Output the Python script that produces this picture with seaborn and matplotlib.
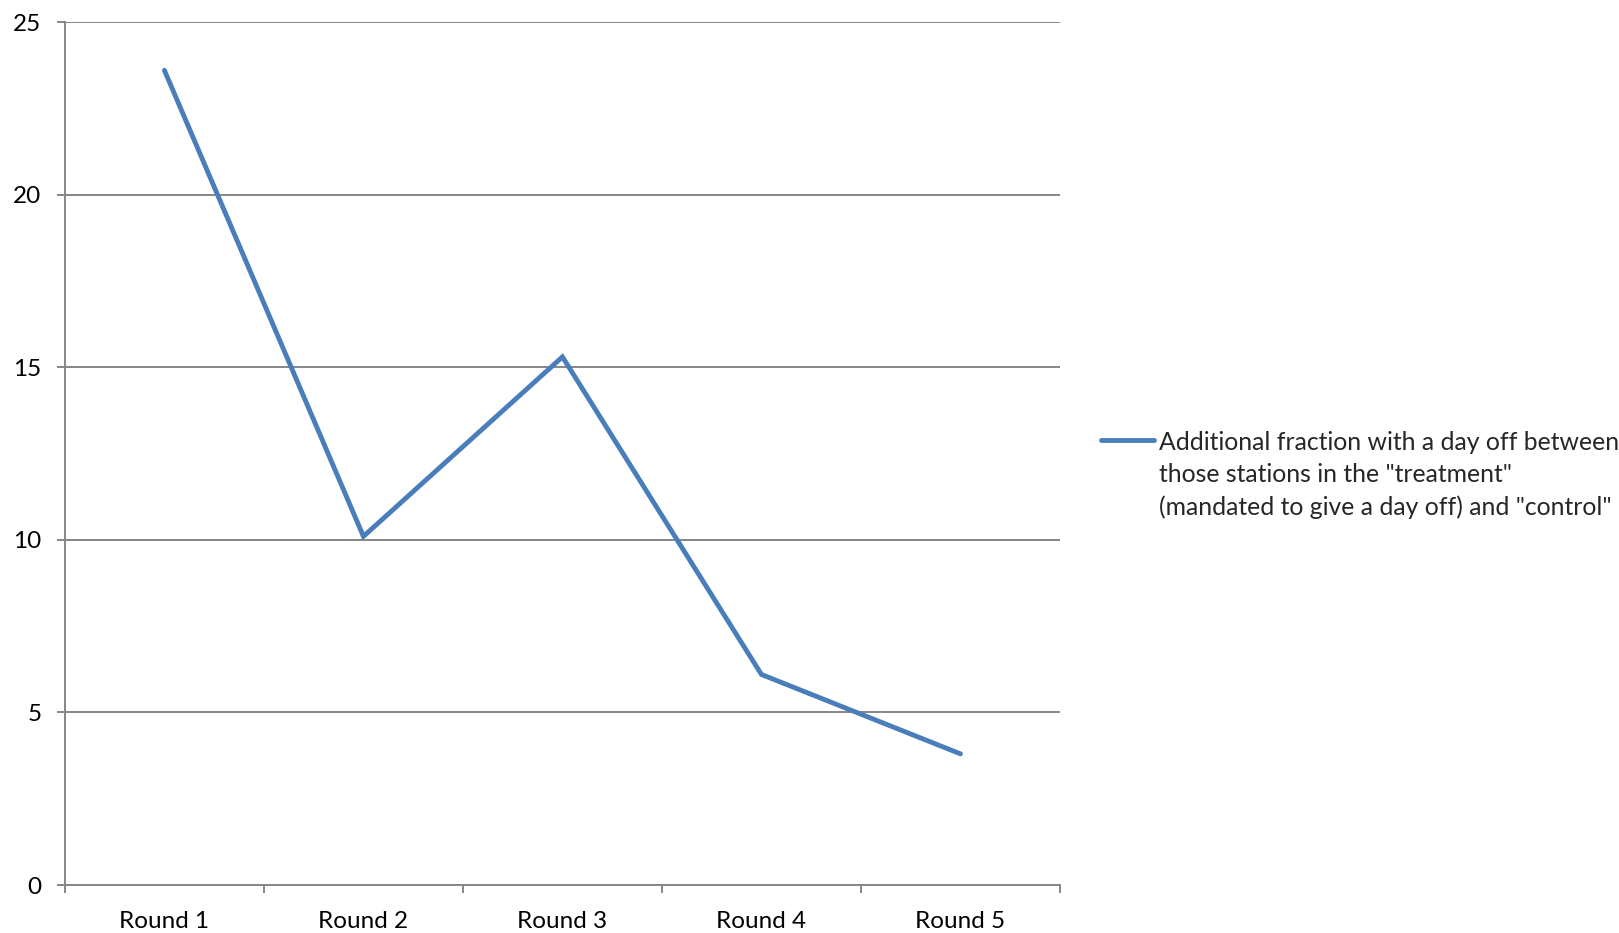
import matplotlib
matplotlib.use("Agg")
import matplotlib.pyplot as plt
import seaborn as sns
import pandas as pd
import numpy as np

rounds = ["Round 1", "Round 2", "Round 3", "Round 4", "Round 5"]
values = [23.6, 10.1, 15.3, 6.1, 3.8]
series_label = ('Additional fraction with a day off between\n'
                'those stations in the "treatment"\n'
                '(mandated to give a day off) and "control"')
y_ticks = [0, 5, 10, 15, 20, 25]

sns.set_style("white")
plt.rcParams["font.family"] = ["Lato", "DejaVu Sans"]

line_color = "#4a7ebb"
grid_color = "#868686"
tick_size = 17.5
legend_size = 17.8

df = pd.DataFrame({"round": rounds, "value": values})

fig = plt.figure(figsize=(16.19, 9.33), dpi=100)
ax = fig.add_axes([0.0401, 0.0514, 0.6146, 0.925])

sns.lineplot(data=df, x="round", y="value", ax=ax, color=line_color,
             linewidth=3.5, label=series_label, sort=False,
             solid_capstyle="round", solid_joinstyle="miter")

ax.set_xlim(-0.5, len(rounds) - 0.5)
ax.set_ylim(0, 25)
ax.set_yticks(y_ticks)
ax.set_xlabel("")
ax.set_ylabel("")

for y in y_ticks[1:]:
    ax.axhline(y, color=grid_color, linewidth=1.4, zorder=0)

for side in ["top", "right"]:
    ax.spines[side].set_visible(False)
for side in ["left", "bottom"]:
    ax.spines[side].set_color(grid_color)
    ax.spines[side].set_linewidth(1.4)

# category boundaries carry the x tick marks
ax.set_xticks(np.arange(len(rounds)))
ax.set_xticklabels(rounds)
ax.set_xticks(np.arange(-0.5, len(rounds)), minor=True)
ax.tick_params(axis="x", which="major", length=0, pad=19, labelsize=tick_size, labelcolor="black")
ax.tick_params(axis="x", which="minor", length=6, width=1.4, color=grid_color, direction="out", bottom=True)
ax.tick_params(axis="y", length=6, width=1.4, color=grid_color, direction="out", left=True,
               pad=11, labelsize=tick_size, labelcolor="black")

leg = ax.legend(loc="center left", bbox_to_anchor=(0.680, 0.491), bbox_transform=fig.transFigure,
                frameon=False, fontsize=legend_size, handlelength=2.15, handletextpad=0.2,
                borderaxespad=0, borderpad=0)
for t in leg.get_texts():
    t.set_linespacing(1.48)

# put the legend key level with the first line of the label
handle = leg.legend_handles[0]
handle.set_ydata(np.asarray(handle.get_ydata()) + 26.0)
handle.set_linewidth(3.5)

fig.savefig("out.png", dpi=100)
